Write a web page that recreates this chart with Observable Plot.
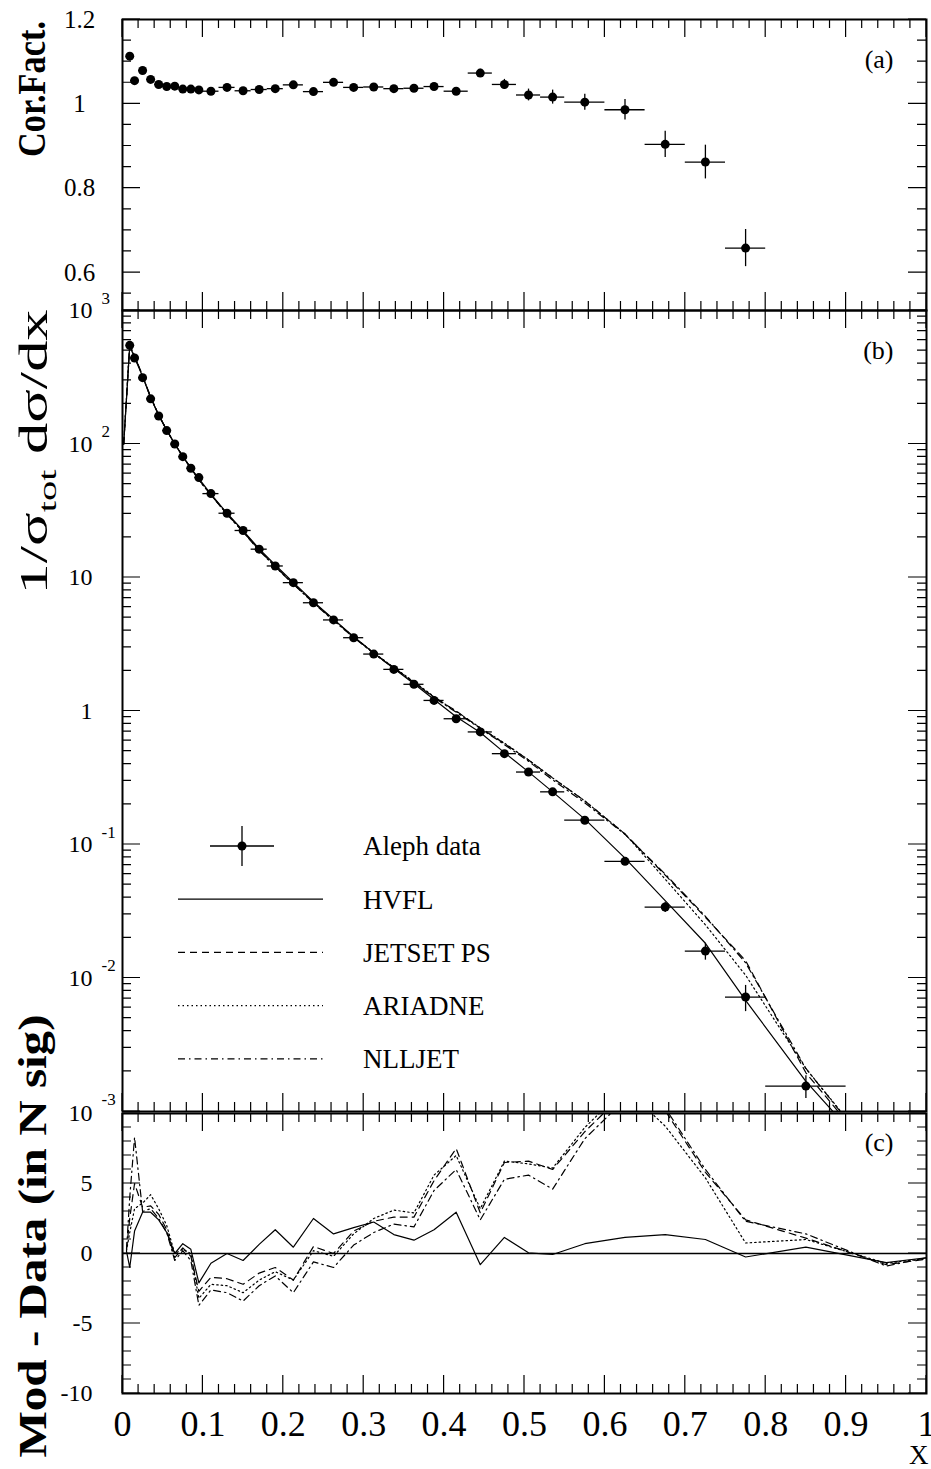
<!DOCTYPE html>
<html>
<head>
<meta charset="utf-8">
<script src="https://cdn.jsdelivr.net/npm/d3@7"></script>
<script src="https://cdn.jsdelivr.net/npm/@observablehq/plot@0.6"></script>
<style>
  body { margin: 0; background: #fff; }
  #chart { position: relative; width: 931px; height: 1469px; overflow: hidden; background: #fff; }
</style>
</head>
<body>
<div id="chart"></div>
<script>
// ---------------- DATA ----------------
// bin centres and half widths of the measured x bins
const xCenters = [0.009, 0.015, 0.025, 0.035, 0.045, 0.055, 0.065, 0.075, 0.085, 0.095,
  0.11, 0.13, 0.15, 0.17, 0.19,
  0.2125, 0.2375, 0.2625, 0.2875, 0.3125, 0.3375, 0.3625, 0.3875,
  0.415, 0.445, 0.475, 0.505, 0.535,
  0.575, 0.625, 0.675, 0.725, 0.775, 0.85];
const halfWidths = [0.001, 0.005, 0.005, 0.005, 0.005, 0.005, 0.005, 0.005, 0.005, 0.005,
  0.01, 0.01, 0.01, 0.01, 0.01,
  0.0125, 0.0125, 0.0125, 0.0125, 0.0125, 0.0125, 0.0125, 0.0125,
  0.015, 0.015, 0.015, 0.015, 0.015,
  0.025, 0.025, 0.025, 0.025, 0.025, 0.05];

// (a) correction factors
const corrFactor = [1.113, 1.055, 1.079, 1.058, 1.046, 1.041, 1.042, 1.035, 1.035, 1.033,
  1.030, 1.039, 1.031, 1.034, 1.036, 1.045, 1.029, 1.051, 1.039, 1.040, 1.036, 1.037, 1.041,
  1.030, 1.073, 1.046, 1.021, 1.016, 1.004, 0.986, 0.904, 0.862, 0.658];
const corrErr = [0.004, 0.003, 0.003, 0.003, 0.003, 0.003, 0.003, 0.003, 0.003, 0.003,
  0.003, 0.003, 0.003, 0.004, 0.004, 0.004, 0.004, 0.005, 0.005, 0.005, 0.005, 0.006, 0.006,
  0.007, 0.009, 0.012, 0.014, 0.0166, 0.019, 0.0245, 0.031, 0.04, 0.044];

// (b) Aleph data 1/sigma dsigma/dx
const alephData = [548, 441, 314, 218, 162, 126, 100, 80.4, 65.8, 56,
  42.5, 30.3, 22.5, 16.3, 12.2, 9.15, 6.47, 4.81, 3.54, 2.67, 2.05, 1.585, 1.2,
  0.875, 0.697, 0.479, 0.349, 0.248, 0.152, 0.0748, 0.034, 0.0159, 0.0072, 0.00155];
const alephErr = [5, 4, 3, 2, 1.5, 1.2, 1, 0.8, 0.7, 0.6,
  0.4, 0.3, 0.2, 0.15, 0.12, 0.09, 0.07, 0.05, 0.04, 0.03, 0.025, 0.02, 0.015,
  0.012, 0.01, 0.008, 0.006, 0.005, 0.004, 0.004, 0.003, 0.0023, 0.0016, 0.0003];

// (b) model curves
const xModelB = [0.0015, 0.009, 0.015, 0.025, 0.035, 0.045, 0.055, 0.065, 0.075, 0.085, 0.095,
  0.11, 0.13, 0.15, 0.17, 0.19, 0.2125, 0.2375, 0.2625, 0.2875, 0.3125, 0.3375, 0.3625, 0.3875,
  0.415, 0.445, 0.475, 0.505, 0.535, 0.575, 0.625, 0.675, 0.725, 0.775, 0.85, 0.95, 1.0];
const hvflB = [100, 540, 445, 320, 222, 164, 127, 100, 81, 66, 55,
  42.2, 30.3, 22.4, 16.4, 12.4, 9.2, 6.6, 4.88, 3.6, 2.72, 2.08, 1.6, 1.22,
  0.905, 0.69, 0.488, 0.35, 0.248, 0.155, 0.079, 0.038, 0.0182, 0.0068, 0.00168, 0.00036, 0.0001];
const jetsetB = [100, 550, 460, 325, 225, 165, 127, 100, 80.8, 65.8, 54,
  41.8, 29.9, 22.1, 16.1, 12.1, 9.0, 6.5, 4.81, 3.58, 2.72, 2.11, 1.64, 1.27,
  1.0, 0.745, 0.57, 0.43, 0.315, 0.212, 0.12, 0.059, 0.0285, 0.0135, 0.00195, 0.00037, 0.0001];
const ariadneB = [100, 548, 455, 324, 224, 165, 127, 100, 80.8, 65.8, 53.7,
  41.6, 29.8, 22.0, 16.0, 12.1, 8.95, 6.5, 4.8, 3.6, 2.73, 2.12, 1.66, 1.28,
  0.99, 0.75, 0.575, 0.43, 0.315, 0.212, 0.12, 0.055, 0.025, 0.0105, 0.0021, 0.00038, 0.0001];
const nlljetB = [100, 560, 455, 322, 223, 165, 127, 100, 80.8, 65.8, 53.5,
  41.5, 29.7, 21.9, 15.9, 12.0, 8.9, 6.45, 4.75, 3.56, 2.69, 2.09, 1.63, 1.26,
  0.98, 0.74, 0.56, 0.42, 0.305, 0.205, 0.119, 0.06, 0.029, 0.013, 0.0021, 0.00037, 0.0001];

// (c) model - data in N sigma
const xModelC = [0.005, 0.009, 0.015, 0.025, 0.035, 0.045, 0.055, 0.065, 0.075, 0.085, 0.095,
  0.11, 0.13, 0.15, 0.17, 0.19, 0.2125, 0.2375, 0.2625, 0.2875, 0.3125, 0.3375, 0.3625, 0.3875,
  0.415, 0.445, 0.475, 0.505, 0.535, 0.575, 0.625, 0.675, 0.725, 0.775, 0.85, 0.95, 1.0];
const hvflC = [0.15, -1.0, 1.6, 2.95, 2.95, 2.4, 1.5, 0.0, 0.7, 0.3, -2.1,
  -0.7, 0.0, -0.5, 0.65, 1.7, 0.45, 2.5, 1.4, 1.85, 2.25, 1.35, 0.95, 1.7,
  2.95, -0.8, 1.15, 0.05, -0.07, 0.7, 1.15, 1.35, 1.0, -0.25, 0.45, -0.65, -0.3];
const jetsetC = [0.3, 2.5, 5.0, 3.3, 3.4, 2.8, 1.7, -0.3, 0.4, -0.2, -2.7,
  -1.7, -1.8, -2.2, -1.4, -1.0, -1.9, 0.5, 0.0, 1.6, 2.3, 2.6, 2.6, 5.2,
  7.5, 2.9, 6.5, 6.6, 6.0, 8.7, 11.5, 10.2, 5.8, 2.4, 1.1, -0.8, -0.4];
const ariadneC = [0.2, 1.5, 3.2, 3.6, 4.2, 3.2, 2.0, 0.0, 0.3, 0.0, -3.2,
  -2.2, -2.3, -2.8, -1.9, -1.3, -1.9, 0.2, -0.2, 1.4, 2.5, 3.1, 2.9, 5.6,
  7.0, 3.2, 6.6, 6.4, 6.1, 9.0, 11.8, 9.1, 5.4, 0.75, 1.0, -0.7, -0.35];
const nlljetC = [0.3, 4.0, 8.3, 3.0, 3.2, 2.5, 1.5, -0.5, 0.2, -0.5, -3.7,
  -2.6, -2.8, -3.4, -2.3, -1.6, -2.8, -0.6, -1.0, 0.6, 1.5, 2.1, 1.9, 4.5,
  6.0, 2.4, 5.3, 5.6, 4.6, 8.2, 11.0, 10.4, 6.0, 2.3, 1.4, -0.9, -0.3];

// tick labels
const xTickValues = [0, 0.1, 0.2, 0.3, 0.4, 0.5, 0.6, 0.7, 0.8, 0.9, 1];
const xTickLabels = ["0", "0.1", "0.2", "0.3", "0.4", "0.5", "0.6", "0.7", "0.8", "0.9", "1"];
const yTickValuesA = [1.2, 1, 0.8, 0.6];
const yTickLabelsA = ["1.2", "1", "0.8", "0.6"];
const yTickValuesB = [1e3, 1e2, 1e1, 1, 1e-1, 1e-2, 1e-3];
// the "10" of 10^-3 coincides with the "10" label of panel (c)
const yTickBaseB = ["10", "10", "10", "1", "10", "10", ""];
const yTickExpB = ["3", "2", "", "", "-1", "-2", "-3"];
const yTickValuesC = [10, 5, 0, -5, -10];
const yTickLabelsC = ["10", "5", "0", "-5", "-10"];
const legendLabels = ["Aleph data", "HVFL", "JETSET PS", "ARIADNE", "NLLJET"];
const panelLabels = ["(a)", "(b)", "(c)"];

// ---------------- BUILD ----------------
const W = 931, ML = 122, MR = 5;
const FONT = "'Liberation Serif', 'Times New Roman', serif";
const baseStyle = {background: "transparent", overflow: "visible", fontFamily: FONT, color: "black"};
const models = [
  {name: "HVFL", b: hvflB, c: hvflC, dash: null},
  {name: "JETSET PS", b: jetsetB, c: jetsetC, dash: "7,5"},
  {name: "ARIADNE", b: ariadneB, c: ariadneC, dash: "1.5,3"},
  {name: "NLLJET", b: nlljetB, c: nlljetC, dash: "7,4,1.5,4"}
];

const rowsA = corrFactor.map((v, i) => ({x: xCenters[i], lo: xCenters[i] - halfWidths[i], hi: xCenters[i] + halfWidths[i], v, e: corrErr[i]}));
const rowsB = alephData.map((v, i) => ({x: xCenters[i], lo: xCenters[i] - halfWidths[i], hi: xCenters[i] + halfWidths[i], v, e: alephErr[i]}));

const xMinor = d3.range(0, 1.0001, 0.02);
const aMinor = d3.range(0.55, 1.2001, 0.05);
const bMinor = [];
for (let e = -3; e < 3; e++) for (let k = 2; k < 10; k++) bMinor.push(k * Math.pow(10, e));
const cMinor = d3.range(-10, 10.001, 1);

function ticksMark(xMaj, xMin, yMaj, yMin) {
  return (index, scales, values, dim) => {
    const {x, y} = scales;
    const L = dim.marginLeft, R = dim.width - dim.marginRight, T = dim.marginTop, B = dim.height - dim.marginBottom;
    const big = 18, small = 9;
    let p = "";
    for (const v of xMaj) { const px = x(v); p += `M${px},${B}V${B - big}M${px},${T}V${T + big}`; }
    for (const v of xMin) { const px = x(v); p += `M${px},${B}V${B - small}M${px},${T}V${T + small}`; }
    for (const v of yMaj) { const py = y(v); p += `M${L},${py}H${L + big}M${R},${py}H${R - big}`; }
    for (const v of yMin) { const py = y(v); p += `M${L},${py}H${L + small}M${R},${py}H${R - small}`; }
    return d3.create("svg:path").attr("d", p).attr("fill", "none").attr("stroke", "black").attr("stroke-width", 1.2).node();
  };
}

function yTitle(parts, cx, cy, size, weight, length) {
  return () => {
    const t = d3.create("svg:text")
      .attr("transform", `translate(${cx},${cy}) rotate(-90)`)
      .attr("text-anchor", "middle").attr("font-size", size).attr("font-weight", weight)
      .attr("fill", "black").attr("font-family", FONT)
      .attr("textLength", length).attr("lengthAdjust", "spacingAndGlyphs");
    for (const p of parts) {
      const s = t.append("tspan").text(p.text);
      if (p.size) s.attr("font-size", p.size);
      if (p.dy) s.attr("dy", p.dy);
    }
    return t.node();
  };
}

const legendLayout = {markX: 120, barHalf: 32, errHalf: 20, lineX1: 56, lineX2: 201, textX: 241, row0: 536, rowGap: 53.2};
function legendMark(index, scales, values, dim) {
  const L = dim.marginLeft, lay = legendLayout;
  const g = d3.create("svg:g").attr("font-family", FONT);
  legendLabels.forEach((label, i) => {
    const y = lay.row0 + i * lay.rowGap;
    if (i === 0) {
      const mx = L + lay.markX;
      g.append("path").attr("d", `M${mx - lay.barHalf},${y}H${mx + lay.barHalf}M${mx},${y - lay.errHalf}V${y + lay.errHalf}`)
        .attr("stroke", "black").attr("stroke-width", 1.3).attr("fill", "none");
      g.append("circle").attr("cx", mx).attr("cy", y).attr("r", 4.5).attr("fill", "black");
    } else {
      const m = models[i - 1];
      const ln = g.append("line").attr("x1", L + lay.lineX1).attr("x2", L + lay.lineX2).attr("y1", y).attr("y2", y)
        .attr("stroke", "black").attr("stroke-width", 1.2);
      if (m.dash) ln.attr("stroke-dasharray", m.dash);
    }
    g.append("text").attr("x", L + lay.textX).attr("y", y).attr("dy", "0.35em")
      .attr("text-anchor", "start").attr("font-size", 27).attr("fill", "black").text(label);
  });
  return g.node();
}

function modelLines(key, xs) {
  return models.map(m => Plot.line(m[key].map((v, i) => ({x: xs[i], v})), {
    x: "x", y: "v", stroke: "black", strokeWidth: 1.2, clip: true,
    ...(m.dash ? {strokeDasharray: m.dash} : {})
  }));
}

const svgA = Plot.plot({
  width: W, height: 310, marginLeft: ML, marginRight: MR, marginTop: 19, marginBottom: 0,
  style: baseStyle,
  x: {domain: [0, 1], axis: null},
  y: {domain: [0.51, 1.2], axis: null},
  marks: [
    Plot.ruleY(rowsA, {y: "v", x1: "lo", x2: "hi", stroke: "black", strokeWidth: 1.3}),
    Plot.ruleX(rowsA, {x: "x", y1: d => d.v - d.e, y2: d => d.v + d.e, stroke: "black", strokeWidth: 1.3}),
    Plot.dot(rowsA, {x: "x", y: "v", r: 4.5, fill: "black"}),
    ticksMark(xTickValues, xMinor, yTickValuesA, aMinor),
    Plot.frame({stroke: "black", strokeWidth: 2}),
    Plot.text(yTickValuesA, {y: d => d, text: (d, i) => yTickLabelsA[i], frameAnchor: "left", dx: -43, textAnchor: "middle", lineAnchor: "middle", fontSize: 25}),
    Plot.text([panelLabels[0]], {text: d => d, frameAnchor: "top-right", dx: -33, dy: 40, textAnchor: "end", lineAnchor: "middle", fontSize: 26}),
    yTitle([{text: "Cor.Fact."}], 45, 89, 40, "bold", 136)
  ]
});

const svgB = Plot.plot({
  width: W, height: 801, marginLeft: ML, marginRight: MR, marginTop: 0, marginBottom: 0,
  style: baseStyle,
  x: {domain: [0, 1], axis: null},
  y: {type: "log", domain: [1e-3, 1e3], axis: null},
  marks: [
    ...modelLines("b", xModelB),
    Plot.ruleY(rowsB, {y: "v", x1: "lo", x2: "hi", stroke: "black", strokeWidth: 1.3}),
    Plot.ruleX(rowsB, {x: "x", y1: d => d.v - d.e, y2: d => d.v + d.e, stroke: "black", strokeWidth: 1.3}),
    Plot.dot(rowsB, {x: "x", y: "v", r: 4.5, fill: "black"}),
    ticksMark(xTickValues, xMinor, yTickValuesB, bMinor),
    Plot.frame({stroke: "black", strokeWidth: 2}),
    Plot.text(yTickValuesB, {y: d => d, text: (d, i) => yTickBaseB[i], frameAnchor: "left", dx: -30, textAnchor: "end", lineAnchor: "middle", fontSize: 24}),
    Plot.text(yTickValuesB, {y: d => d, text: (d, i) => yTickExpB[i], frameAnchor: "left", dx: -21, dy: -12, textAnchor: "start", lineAnchor: "middle", fontSize: 17}),
    Plot.text([panelLabels[1]], {text: d => d, frameAnchor: "top-right", dx: -33, dy: 40, textAnchor: "end", lineAnchor: "middle", fontSize: 26}),
    legendMark,
    yTitle([{text: "1/σ"}, {text: "tot", size: 26, dy: 9}, {text: " dσ/dx", dy: -9}], 47, 142, 40, "normal", 285)
  ]
});

const svgC = Plot.plot({
  width: W, height: 358, marginLeft: ML, marginRight: MR, marginTop: 2, marginBottom: 76,
  style: baseStyle,
  x: {domain: [0, 1], axis: null},
  y: {domain: [-10, 10], axis: null},
  marks: [
    Plot.ruleY([0], {stroke: "black", strokeWidth: 1.3}),
    ...modelLines("c", xModelC),
    ticksMark(xTickValues, xMinor, yTickValuesC, cMinor),
    Plot.frame({stroke: "black", strokeWidth: 2}),
    Plot.text(yTickValuesC, {y: d => d, text: (d, i) => yTickLabelsC[i], frameAnchor: "left", dx: -30, textAnchor: "end", lineAnchor: "middle", fontSize: 24}),
    Plot.text(xTickValues, {x: d => d, text: (d, i) => xTickLabels[i], frameAnchor: "bottom", dy: 31, textAnchor: "middle", lineAnchor: "middle", fontSize: 36, ariaLabel: "xlabels"}),
    Plot.text(["X"], {text: d => d, frameAnchor: "bottom-right", dx: 2, dy: 62, textAnchor: "end", lineAnchor: "middle", fontSize: 27, ariaLabel: "xlabels"}),
    Plot.text([panelLabels[2]], {text: d => d, frameAnchor: "top-right", dx: -33, dy: 29, textAnchor: "end", lineAnchor: "middle", fontSize: 26}),
    yTitle([{text: "Mod - Data (in N sig)"}], 46, 125, 41, "bold", 443)
  ]
});

const chart = document.getElementById("chart");
[[svgC, 1111], [svgB, 310], [svgA, 0]].forEach(([s, top]) => {
  s.style.position = "absolute";
  s.style.left = "0px";
  s.style.top = top + "px";
  chart.appendChild(s);
});

// narrow the x-axis labels (tall, condensed glyphs as in the reference)
svgC.querySelectorAll('g[aria-label="xlabels"] text').forEach(t => {
  const w = t.getComputedTextLength();
  t.setAttribute("textLength", (w * 0.72).toFixed(1));
  t.setAttribute("lengthAdjust", "spacingAndGlyphs");
});
</script>
</body>
</html>
